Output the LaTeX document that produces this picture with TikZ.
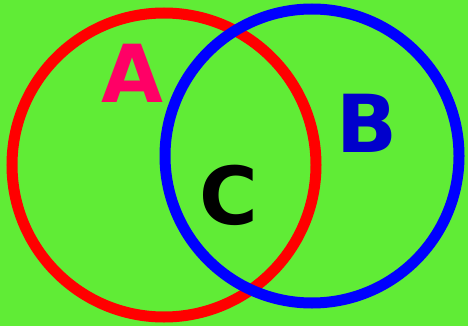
\documentclass[tikz,border=0pt]{standalone}
\usepackage{fontspec}
\setmainfont{DejaVu Sans}
\usepackage{xcolor}
\usetikzlibrary{positioning}
\definecolor{bggreen}{RGB}{96,236,54}
\definecolor{setred}{RGB}{255,0,0}
\definecolor{setblue}{RGB}{0,0,255}
\definecolor{labelpink}{RGB}{255,0,102}
\definecolor{labelblue}{RGB}{0,0,204}
\tikzset{
  setring/.style={line width=11pt},
  setlabel/.style={inner sep=0pt, font=\fontsize{80}{80}\selectfont\bfseries},
}

\begin{document}
\begin{tikzpicture}[x=1pt, y=-1pt]
\fill[bggreen] (0,0) rectangle (468,326);
\useasboundingbox (0,0) rectangle (468,326);
\draw[setring, setred] (164,165) circle[radius=152];
\draw[setring, setblue] (312,156) circle[radius=147];
\node[setlabel, text=labelpink] (labA) at (132,73) {A};
\node[setlabel, text=labelblue] (labB) at (367,123) {B};
\node[setlabel, text=black] (labC) at (229,195) {C};
\end{tikzpicture}
\end{document}
